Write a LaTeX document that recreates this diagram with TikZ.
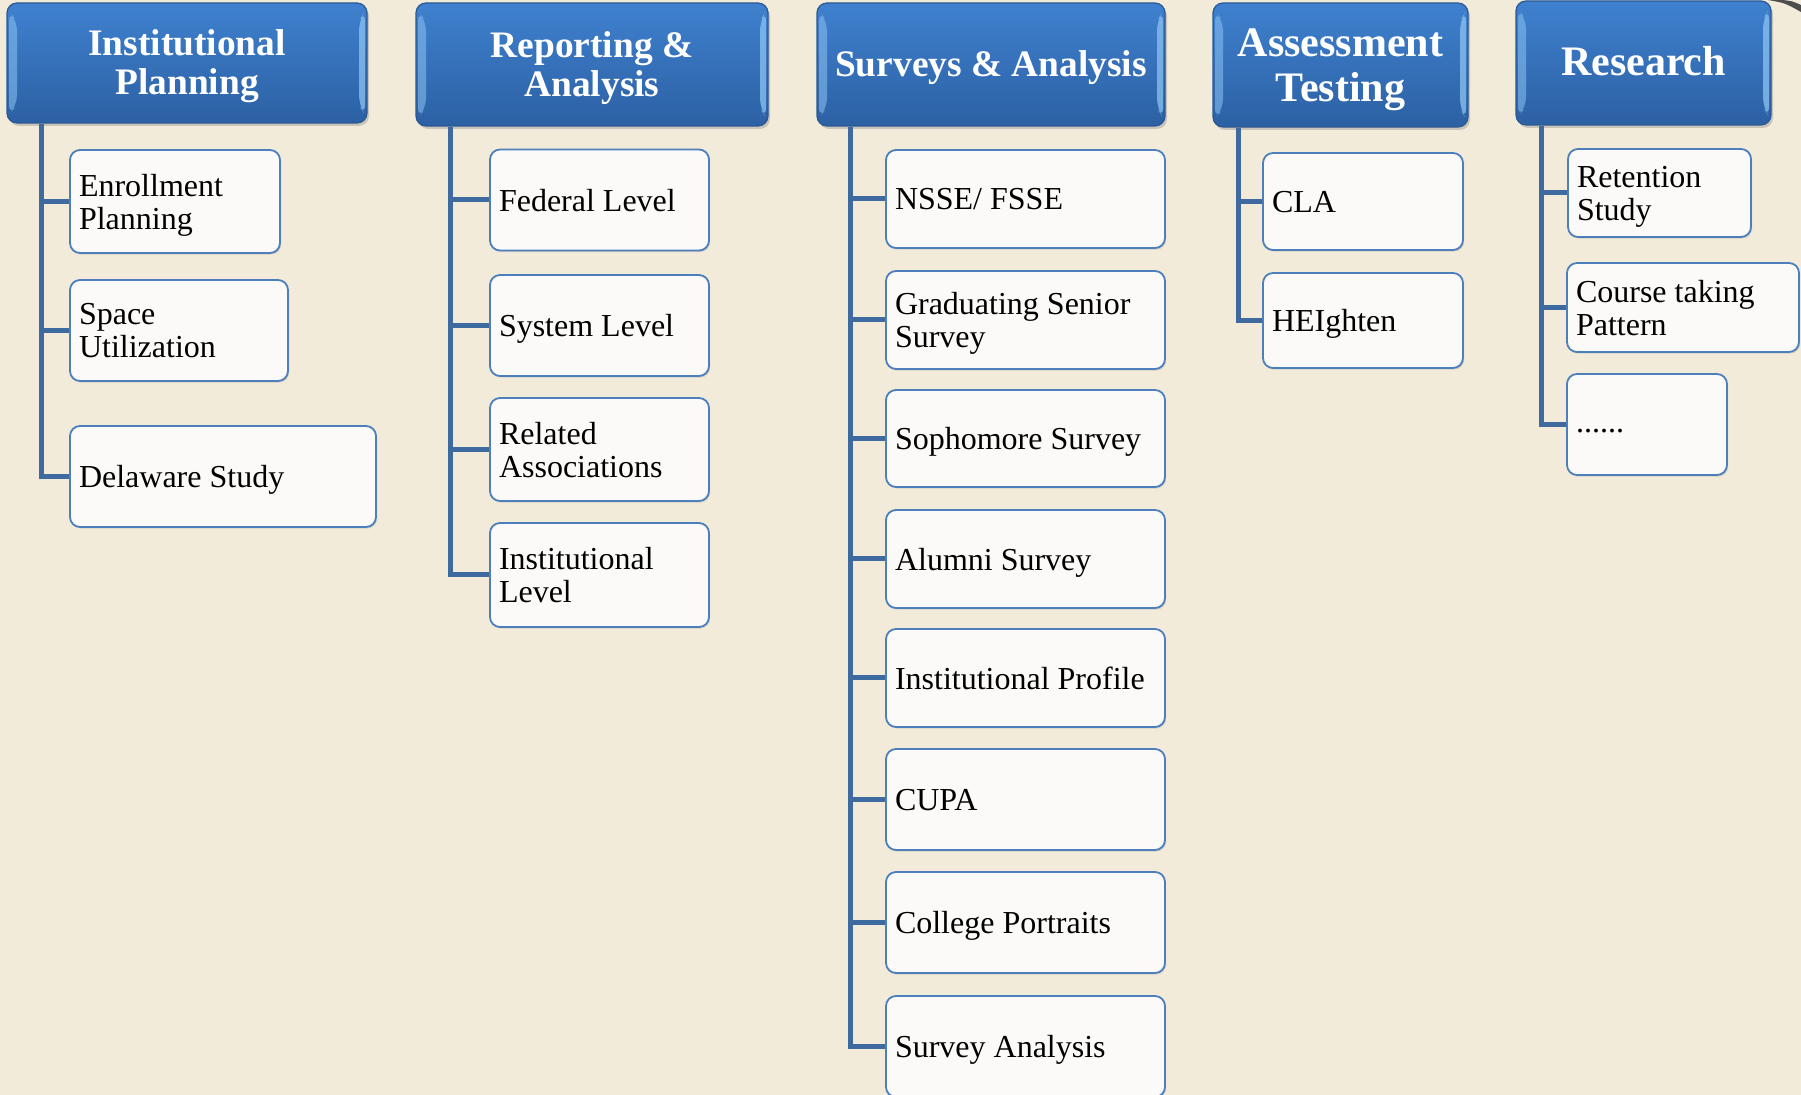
\documentclass[tikz,border=0pt]{standalone}
\usepackage{fontspec}
\setmainfont{Liberation Serif}
\usetikzlibrary{shadows}

\definecolor{paper}{HTML}{F2EBDA}
\definecolor{hdrtop}{HTML}{3F81CF}
\definecolor{hdrbot}{HTML}{2C60A3}
\definecolor{hdrline}{HTML}{2A5893}
\definecolor{hdrhi}{HTML}{8CC3F2}
\definecolor{kidline}{HTML}{4D7FBC}
\definecolor{kidfill}{HTML}{FBFAF8}
\definecolor{linkcol}{HTML}{3F6A9F}

\tikzset{
  hdr/.style={draw=hdrline, line width=.6pt, rounded corners=5pt,
    top color=hdrtop, bottom color=hdrbot, text=white, align=center,
    inner sep=0pt, text depth=0.6pt, font=\bfseries\fontsize{18.7}{19.5}\selectfont,
    drop shadow={shadow xshift=1pt, shadow yshift=-1.5pt, opacity=.35},
    path picture={
      \fill[hdrhi, opacity=.55]
        ([xshift=1pt,yshift=-4pt]path picture bounding box.north west) --
        ([xshift=5pt,yshift=-9pt]path picture bounding box.north west) --
        ([xshift=5pt,yshift=9pt]path picture bounding box.south west) --
        ([xshift=1pt,yshift=4pt]path picture bounding box.south west) -- cycle;
      \fill[hdrhi, opacity=.75]
        ([xshift=-1pt,yshift=-4pt]path picture bounding box.north east) --
        ([xshift=-4pt,yshift=-9pt]path picture bounding box.north east) --
        ([xshift=-4pt,yshift=9pt]path picture bounding box.south east) --
        ([xshift=-1pt,yshift=4pt]path picture bounding box.south east) -- cycle;
    }},
  bighdr/.style={font=\bfseries\fontsize{21}{22.5}\selectfont},
  kid/.style={draw=kidline, line width=.9pt, rounded corners=5pt, fill=kidfill,
    align=flush left, inner xsep=4.5pt, inner ysep=0pt, text depth=0pt,
    font=\fontsize{16}{16.5}\selectfont,
    drop shadow={shadow xshift=.6pt, shadow yshift=-.8pt, opacity=.25}},
  kidtwo/.style={kid, text depth=16.5pt},
  branch/.style={draw=linkcol, line width=2.5pt}
}

\begin{document}
\begin{tikzpicture}[x=0.5pt, y=-0.5pt]
  \fill[paper] (0,0) rectangle (1801,1095);
  \useasboundingbox (0,0) rectangle (1801,1095);
  \fill[gray!60!black] (1768,0) .. controls (1785,3) .. (1801,12) -- (1801,5) .. controls (1792,1) .. (1782,0) -- cycle;

  % headers
  \node[hdr, minimum width=180pt, minimum height=60pt] (ip) at (187,63) {Institutional\\Planning};
  \node[hdr, minimum width=176pt, minimum height=61.5pt] (ra) at (592,64.5) {Reporting \&\\Analysis};
  \node[hdr, minimum width=174pt, minimum height=61.5pt] (sa) at (991,64.5) {Surveys \& Analysis};
  \node[hdr, bighdr, text depth=0pt, minimum width=127.5pt, minimum height=62pt] (at) at (1340.5,65) {Assessment\\Testing};
  \node[hdr, bighdr, text depth=2.3pt, minimum width=127.5pt, minimum height=62pt] (rs) at (1643.5,63) {Research};

  % institutional planning
  \node[kidtwo, text width=96pt, minimum height=51.5pt] (ep) at (175,201.5) {Enrollment\\Planning};
  \node[kidtwo, text width=100pt, minimum height=50.5pt] (su) at (179,330.5) {Space\\Utilization};
  \node[kid, text width=144pt, minimum height=50.5pt] (ds) at (223,476.5) {Delaware Study};

  % reporting
  \node[kid, text width=100.5pt, minimum height=50.5pt] (fl) at (599.5,200) {Federal Level};
  \node[kid, text width=100.5pt, minimum height=50.5pt] (sl) at (599.5,325.5) {System Level};
  \node[kidtwo, text width=100.5pt, minimum height=51.5pt] (rel) at (599.5,449.5) {Related\\Associations};
  \node[kidtwo, text width=100.5pt, minimum height=52pt] (il) at (599.5,575) {Institutional\\Level};

  % surveys
  \node[kid, text width=130.5pt, minimum height=49pt] (nsse) at (1025.5,199) {NSSE/ FSSE};
  \node[kidtwo, text width=130.5pt, minimum height=49pt] (gss) at (1025.5,320) {Graduating Senior\\Survey};
  \node[kid, text width=130.5pt, minimum height=48.5pt] (soph) at (1025.5,438.5) {Sophomore Survey};
  \node[kid, text width=130.5pt, minimum height=49pt] (alum) at (1025.5,559) {Alumni Survey};
  \node[kid, text width=130.5pt, minimum height=49pt] (prof) at (1025.5,678) {Institutional Profile};
  \node[kid, text width=130.5pt, minimum height=50.5pt] (cupa) at (1025.5,799.5) {CUPA};
  \node[kid, text width=130.5pt, minimum height=50.5pt] (port) at (1025.5,922.5) {College Portraits};
  \node[kid, text width=130.5pt, minimum height=50.5pt] (anal) at (1025.5,1046.5) {Survey Analysis};

  % assessment
  \node[kid, text width=91pt, minimum height=48.5pt] (cla) at (1363,201.5) {CLA};
  \node[kid, text width=91pt, minimum height=47.5pt] (hei) at (1363,320.5) {HEIghten};

  % research
  \node[kidtwo, text width=82.5pt, minimum height=44pt] (ret) at (1659.5,193) {Retention\\Study};
  \node[kidtwo, text width=107pt, minimum height=44.5pt] (ctp) at (1683,307.5) {Course taking\\Pattern};
  \node[kid, text width=71pt, text height=8pt, minimum height=50.5pt] (etc) at (1647,424.5) {......};

  \begin{scope}[branch]
    \draw ([xshift=17.5pt]ip.south west) |- (ep.west);
    \draw ([xshift=17.5pt]ip.south west) |- (su.west);
    \draw ([xshift=17.5pt]ip.south west) |- (ds.west);
    \draw ([xshift=17.5pt]ra.south west) |- (fl.west);
    \draw ([xshift=17.5pt]ra.south west) |- (sl.west);
    \draw ([xshift=17.5pt]ra.south west) |- (rel.west);
    \draw ([xshift=17.5pt]ra.south west) |- (il.west);
    \draw ([xshift=17pt]sa.south west) |- (nsse.west);
    \draw ([xshift=17pt]sa.south west) |- (gss.west);
    \draw ([xshift=17pt]sa.south west) |- (soph.west);
    \draw ([xshift=17pt]sa.south west) |- (alum.west);
    \draw ([xshift=17pt]sa.south west) |- (prof.west);
    \draw ([xshift=17pt]sa.south west) |- (cupa.west);
    \draw ([xshift=17pt]sa.south west) |- (port.west);
    \draw ([xshift=17pt]sa.south west) |- (anal.west);
    \draw ([xshift=13pt]at.south west) |- (cla.west);
    \draw ([xshift=13pt]at.south west) |- (hei.west);
    \draw ([xshift=13pt]rs.south west) |- (ret.west);
    \draw ([xshift=13pt]rs.south west) |- (ctp.west);
    \draw ([xshift=13pt]rs.south west) |- (etc.west);
  \end{scope}
\end{tikzpicture}
\end{document}
